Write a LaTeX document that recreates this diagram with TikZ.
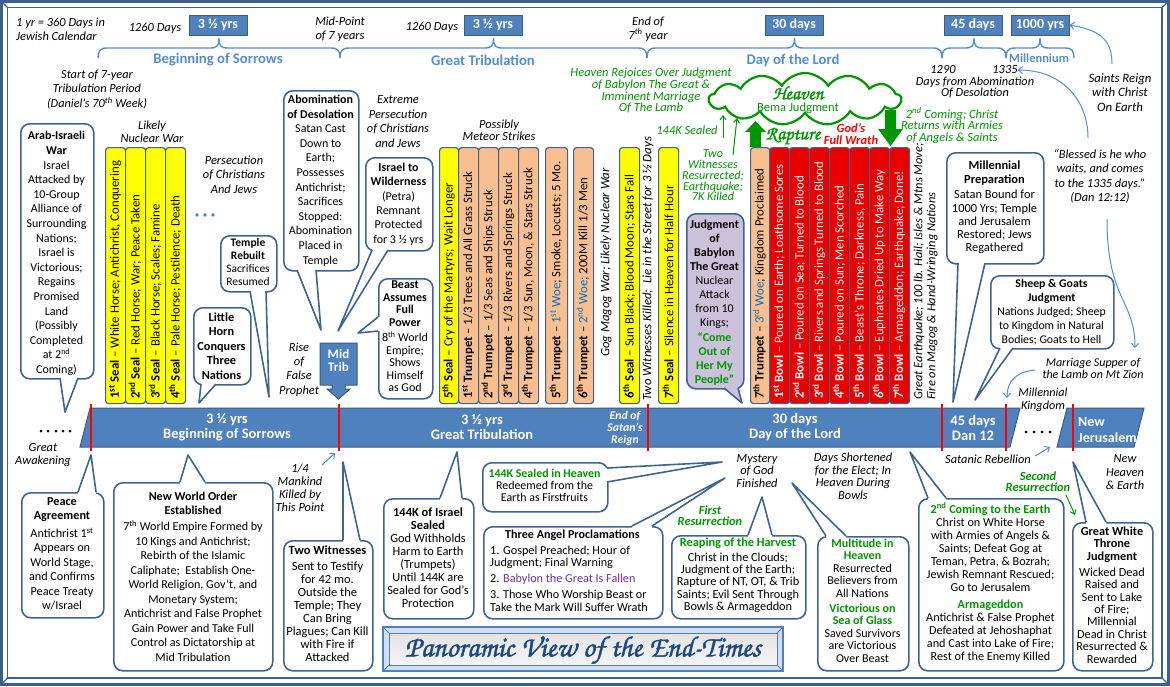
\documentclass[tikz,border=0pt]{standalone}
\usepackage{fontspec}
\setmainfont{Carlito}
\newfontfamily\chorus[FakeBold=1.5]{TeX Gyre Chorus}
\usepackage{graphicx}
\usetikzlibrary{shapes.symbols,arrows.meta}
\definecolor{cbord}{RGB}{62,100,146}
\definecolor{frm}{RGB}{60,95,140}
\definecolor{barblue}{RGB}{79,129,189}
\definecolor{barbord}{RGB}{56,93,138}
\definecolor{hblue}{RGB}{84,141,212}
\definecolor{sealy}{RGB}{255,255,0}
\definecolor{trump}{RGB}{250,191,143}
\definecolor{bowlred}{RGB}{235,0,0}
\definecolor{grn}{RGB}{0,150,0}
\definecolor{purp}{RGB}{112,48,160}
\definecolor{woeblue}{RGB}{0,112,192}
\definecolor{babf}{RGB}{204,193,218}
\definecolor{titleblue}{RGB}{31,73,125}
\newcommand\fsz[2]{\fontsize{#1}{#2}\selectfont}
\tikzset{
 t/.style={inner sep=0, align=center},
 itx/.style={t, font=\itshape\fsz{12.4}{14}},
 cbox/.style={draw=cbord, line width=1.6pt, fill=white, rounded corners=9pt, inner sep=0, anchor=north west},
 cb/.style={draw=cbord, line width=1.6pt, line join=round},
 barb/.style={draw=cbord, line width=1.2pt, rounded corners=3pt, inner sep=0, anchor=north west, minimum height=256pt},
 bart/.style={inner sep=0, anchor=west, rotate=90, font=\fsz{12.8}{13}},
 rit/.style={rotate=90, anchor=west, inner sep=0, font=\itshape\fsz{12.8}{13}},
 topbox/.style={fill=barblue, draw=barbord, line width=1pt, minimum width=58pt, minimum height=20pt, inner sep=0, text=white, font=\bfseries\fsz{14}{14}},
 brc/.style={draw=hblue, line width=1.4pt},
 head/.style={inner sep=0, text=hblue, font=\bfseries\fsz{14.7}{14}},
 bartx/.style={t, text=white, font=\bfseries\fsz{14.5}{15}},
 redl/.style={draw=red, line width=1.6pt},
 thin/.style={draw=hblue, line width=1pt, -{Straight Barb[length=4pt,width=7pt]}},
 garr/.style={draw=grn, line width=1pt, -{Straight Barb[length=4pt,width=6pt]}},
}
% callout tail on a horizontal edge: [fill]{x1}{x2}{yedge}{ax}{ay}{dy inward}
\newcommand\tailh[7][white]{%
 \fill[#1] (#2,{#4+(#7)}) -- (#2,#4) -- (#5,#6) -- (#3,#4) -- (#3,{#4+(#7)}) -- cycle;
 \draw[cb] (#2,#4) -- (#5,#6) -- (#3,#4);}
% callout tail on a vertical edge: [fill]{y1}{y2}{xedge}{ax}{ay}{dx inward}
\newcommand\tailv[7][white]{%
 \fill[#1] ({#4+(#7)},#2) -- (#4,#2) -- (#5,#6) -- (#4,#3) -- ({#4+(#7)},#3) -- cycle;
 \draw[cb] (#4,#2) -- (#5,#6) -- (#4,#3);}
\newcommand\mybrace[2]{%
 \pgfmathsetmacro\bmid{(#1+#2)/2}%
 \draw[brc] (#1,58) .. controls (#1,51) and (#1+2,48) .. (#1+9,48) -- (\bmid-9,48) .. controls (\bmid-2,48) and (\bmid,46) .. (\bmid,38) .. controls (\bmid,46) and (\bmid+2,48) .. (\bmid+9,48) -- (#2-9,48) .. controls (#2-2,48) and (#2,51) .. (#2,58);}
\newcommand\vbar[5]{%
 \node[barb, fill=#4, minimum width=#3pt] (#1) at (#2,147) {};
 \node[bart] (#1t) at ({#2+#3/2},399) {#5};}
\begin{document}
\begin{tikzpicture}[x=1pt,y=-1pt]
\useasboundingbox (0,0) rectangle (1170,686);
\fill[white] (0,0) rectangle (1170,686);
% frame
\draw[draw=frm, line width=2.5pt] (1.5,1.5) rectangle (1168.5,684.5);
\draw[draw=frm, line width=1.5pt] (7.5,7.5) rectangle (1162,678);
\draw[draw=frm, line width=1.2pt] (1.5,1.5)--(7.5,7.5) (1168.5,1.5)--(1162,7.5) (1168.5,684.5)--(1162,678) (1.5,684.5)--(7.5,678);

% ---------- top scale ----------
\node[itx, align=left, anchor=west] (cal) at (16,29) {1 yr = 360 Days in\\Jewish Calendar};
\node[itx] (d1) at (155,28) {1260 Days};
\node[topbox] (b1) at (218,25) {3 ½ yrs};
\node[itx] (midp) at (340,29) {Mid-Point\\of 7 years};
\node[itx] (d2) at (432,27) {1260 Days};
\node[topbox] (b2) at (493,25) {3 ½ yrs};
\node[itx] (end7) at (648,29) {End of\\7\textsuperscript{th} year};
\node[topbox] (b3) at (794,25) {30 days};
\node[topbox] (b4) at (973,25) {45 days};
\node[topbox] (b5) at (1040,25) {1000 yrs};
\mybrace{98}{340}
\mybrace{340}{647}
\mybrace{647}{942}
\mybrace{942}{1006}
\mybrace{1006}{1074}
\node[head] (h1) at (218,60) {Beginning of Sorrows};
\node[head] (h2) at (483,60) {Great Tribulation};
\node[head] (h3) at (793,60) {Day of the Lord};
\node[head, font=\bfseries\fsz{12.5}{12}] (h5) at (1039,58) {Millennium};
\node[itx] (n1290) at (943,70) {1290};
\node[itx] (n1335) at (1005,70) {1335};
\node[itx, font=\itshape\fsz{12.3}{11.5}] (dfa) at (975,87.5) {Days from Abomination\\Of Desolation};
\node[itx, font=\itshape\fsz{12.8}{14.5}] (saints) at (1120,92.5) {Saints Reign\\with Christ\\On Earth};
\node[itx, font=\itshape\fsz{12.4}{14.3}] (bless) at (1100,176.5) {“Blessed is he who\\waits, and comes\\to the 1335 days.”\\(Dan 12:12)};
\coordinate (blA) at (1088,138);
\coordinate (blB) at (1107,219);
\coordinate (srA) at (1112,64);
\draw[thin] (blA) .. controls (1088,100) and (1062,70) .. (n1335.east);
\draw[thin] (srA) .. controls (1112,38) and (1098,30) .. (b5.east);

% ---------- upper annotations ----------
\node[itx, font=\itshape\fsz{12.3}{14.5}] (start) at (97,89.5) {Start of 7-year\\Tribulation Period\\(Daniel’s 70\textsuperscript{th} Week)};
\node[itx, font=\itshape\fsz{12.4}{13}] (lnw) at (152,131.5) {Likely\\Nuclear War};
\node[itx, font=\itshape\fsz{12.4}{14.5}] (pers) at (234,174.5) {Persecution\\of Christians\\And Jews};
\foreach \dx [count=\i] in {197,205,213} \fill[barblue] (\dx,215) circle (1.8pt);
\node[itx, font=\itshape\fsz{12.4}{14.4}] (ext) at (398,121.5) {Extreme\\Persecution\\of Christians\\and Jews};
\node[itx, font=\itshape\fsz{12.4}{12}] (meteor) at (499,130) {Possibly\\Meteor Strikes};
\node[itx, font=\itshape\fsz{12.4}{14.4}] (rise) at (299,369.5) {Rise\\of\\False\\Prophet};

% ---------- callouts upper ----------
\node[cbox, minimum width=73pt, minimum height=255pt] (arab) at (20,123) {};
\tailh{60}{78}{378}{65}{412}{-3}
\node[t, font=\fsz{12}{14.6}] (arabt) at (56.5,253.5) {\textbf{Arab-Israeli}\\\textbf{War}\\Israel\\Attacked by\\10-Group\\Alliance of\\Surrounding\\Nations;\\Israel is\\Victorious;\\Regains\\Promised\\Land\\(Possibly\\Completed\\at 2\textsuperscript{nd}\\Coming)};

\node[cbox, minimum width=56pt, minimum height=56pt] (temple) at (220,235) {};
\tailh{250}{266}{291}{269}{397}{-3}
\node[t, font=\fsz{11.5}{13}] (templet) at (248,262.5) {\textbf{Temple}\\\textbf{Rebuilt}\\Sacrifices\\Resumed};

\node[cbox, minimum width=57pt, minimum height=77pt] (horn) at (193,307) {};
\tailh{201}{216}{384}{199}{403}{-3}
\node[t, font=\bfseries\fsz{12.3}{14.5}] (hornt) at (221.5,346) {Little\\Horn\\Conquers\\Three\\Nations};

\node[cbox, minimum width=75pt, minimum height=180pt] (abom) at (283,90) {};
\tailh{297}{316}{270}{321}{330}{-3}
\node[t, font=\fsz{12}{14.6}] (abomt) at (320.5,180.5) {\textbf{Abomination}\\\textbf{of Desolation}\\Satan Cast\\Down to\\Earth;\\Possesses\\Antichrist;\\Sacrifices\\Stopped:\\Abomination\\Placed in\\Temple};

\node[cbox, minimum width=67pt, minimum height=93pt] (wild) at (365,157) {};
\tailh{372}{388}{250}{338}{331}{-3}
\node[t, font=\fsz{12}{14.4}] (wildt) at (398.5,204) {\textbf{Israel to}\\\textbf{Wilderness}\\(Petra)\\Remnant\\Protected\\for 3 ½ yrs};

\node[cbox, minimum width=54pt, minimum height=120pt] (beast) at (378,278) {};
\tailv{317}{331}{378}{358}{333}{3}
\node[t, font=\fsz{12}{12.5}] (beastt) at (405,336.5) {\textbf{Beast}\\\textbf{Assumes}\\\textbf{Full}\\\textbf{Power}\\[3pt]8\textsuperscript{th} World\\Empire;\\Shows\\Himself\\as God};

% Mid Trib arrow
\filldraw[fill=barblue, draw=barbord, line width=1pt] (320,343) -- (357,343) -- (357,385) -- (345,385) -- (345,389) -- (350,389) -- (338.5,399) -- (327,389) -- (332,389) -- (332,385) -- (320,385) -- cycle;
\node[t, text=white, font=\bfseries\fsz{13}{13}] (midtrib) at (338.5,360.5) {Mid\\Trib};

% ---------- vertical bars ----------
\vbar{s1}{105}{20}{sealy}{\textbf{1\textsuperscript{st} Seal} – White Horse; Antichrist, Conquering}
\vbar{s2}{125}{20}{sealy}{\textbf{2\textsuperscript{nd} Seal} – Red Horse; War; Peace Taken}
\vbar{s3}{145}{20}{sealy}{\textbf{3\textsuperscript{rd} Seal} – Black Horse; Scales; Famine}
\vbar{s4}{165}{20}{sealy}{\textbf{4\textsuperscript{th} Seal} – Pale Horse; Pestilence; Death}
\vbar{s5}{439}{19}{sealy}{\textbf{5\textsuperscript{th} Seal} – Cry of the Martyrs; Wait Longer}
\vbar{t1}{458}{20}{trump}{\textbf{1\textsuperscript{st} Trumpet} – 1/3 Trees and All Grass Struck}
\vbar{t2}{478}{20}{trump}{\textbf{2\textsuperscript{nd} Trumpet} – 1/3 Seas and Ships Struck}
\vbar{t3}{498}{20}{trump}{\textbf{3\textsuperscript{rd} Trumpet} – 1/3 Rivers and Springs Struck}
\vbar{t4}{518}{20}{trump}{\textbf{4\textsuperscript{th} Trumpet} – 1/3 Sun, Moon, \& Stars Struck}
\vbar{t5}{545}{22}{trump}{\textbf{5\textsuperscript{th} Trumpet} – \textcolor{woeblue}{1\textsuperscript{st} Woe}; Smoke, Locusts; 5 Mo.}
\vbar{t6}{573}{20}{trump}{\textbf{6\textsuperscript{th} Trumpet} – \textcolor{woeblue}{2\textsuperscript{nd} Woe}; 200M Kill 1/3 Men}
\node[rit] (gog) at (606,357) {Gog Magog War; Likely Nuclear War};
\vbar{s6}{619}{20}{sealy}{\textbf{6\textsuperscript{th} Seal} – Sun Black; Blood Moon; Stars Fall}
\node[rit] (twk) at (648,401) {Two Witnesses Killed;\ \ Lie in the Street for 3 ½ Days};
\vbar{s7}{658}{20}{sealy}{\textbf{7\textsuperscript{th} Seal} – Silence in Heaven for Half Hour}
\vbar{t7}{750}{19}{trump}{\textbf{7\textsuperscript{th} Trumpet} – \textcolor{woeblue}{3\textsuperscript{rd} Woe}; Kingdom Proclaimed}
\vbar{w1}{769}{20}{bowlred}{\color{white}\textbf{1\textsuperscript{st} Bowl} – Poured on Earth; Loathsome Sores}
\vbar{w2}{789}{20}{bowlred}{\color{white}\textbf{2\textsuperscript{nd} Bowl} – Poured on Sea; Turned to Blood}
\vbar{w3}{809}{20}{bowlred}{\color{white}\textbf{3\textsuperscript{rd} Bowl} – Rivers and Springs Turned to Blood}
\vbar{w4}{829}{20}{bowlred}{\color{white}\textbf{4\textsuperscript{th} Bowl} – Poured on Sun; Men Scorched}
\vbar{w5}{849}{20}{bowlred}{\color{white}\textbf{5\textsuperscript{th} Bowl} – Beast’s Throne; Darkness, Pain}
\vbar{w6}{869}{20}{bowlred}{\color{white}\textbf{6\textsuperscript{th} Bowl} – Euphrates Dried Up to Make Way}
\vbar{w7}{889}{20}{bowlred}{\color{white}\textbf{7\textsuperscript{th} Bowl} – Armageddon; Earthquake; Done!}
\node[rit, font=\itshape\fsz{12.5}{13}] (quake1) at (919,400) {Great Earthquake; 100 lb. Hail; Isles \& Mtns Move;};
\node[rit, font=\itshape\fsz{12.5}{13}] (quake2) at (932,400) {Fire on Magog \& Hand-Wringing Nations};

% Babylon callout
\node[cbox, fill=babf, minimum width=57pt, minimum height=175pt] (bab) at (686,213) {};
\tailh[babf]{724}{738}{388}{742}{403}{-3}
\node[t, font=\fsz{12}{14.1}] (babt) at (714.5,302.5) {\textbf{Judgment}\\\textbf{of}\\\textbf{Babylon}\\\textbf{The Great}\\Nuclear\\Attack\\from 10\\Kings;\\\textcolor{grn}{\textbf{“Come}}\\\textcolor{grn}{\textbf{Out of}}\\\textcolor{grn}{\textbf{Her My}}\\\textcolor{grn}{\textbf{People”}}};

% ---------- heaven cloud ----------
\node[cloud, cloud puffs=13, cloud puff arc=115, aspect=3.7, draw=grn, line width=2.2pt, fill=white, minimum width=192pt, minimum height=52pt, inner sep=0] (cloud) at (805,99) {};
\node[t, text=grn, font=\chorus\fsz{19}{19}] (heaven) at (798,93) {Heaven};
\node[t, text=grn, font=\fsz{12.5}{12}] (bema) at (798,108) {Bema Judgment};
\fill[grn] (750,147) -- (750,132) -- (745,132) -- (755.5,121) -- (766,132) -- (761,132) -- (761,147) -- cycle;
\fill[grn] (885,110) -- (896,110) -- (896,129) -- (903,129) -- (890.5,146) -- (878,129) -- (885,129) -- cycle;
\coordinate (g1a) at (723,138);
\coordinate (g1b) at (723,115);
\coordinate (g2a) at (733,155);
\coordinate (g2b) at (737,118);
\draw[garr] (g1a) -- (g1b);
\draw[garr] (g2a) -- (g2b);
\node[t, text=grn, font=\chorus\fsz{19}{19}] (rapture) at (793,136) {Rapture};
\node[t, text=red, font=\bfseries\itshape\fsz{12.5}{12}] (wrath) at (851,134) {God’s\\Full Wrath};
\node[t, text=grn, font=\itshape\fsz{12.5}{11.8}] (rejoice) at (651,90.5) {Heaven Rejoices Over Judgment\\of Babylon The Great \&\\Imminent Marriage\\Of The Lamb};
\node[t, text=grn, font=\itshape\fsz{12.4}{12}] (s144) at (687,130) {144K Sealed};
\node[t, text=grn, font=\itshape\fsz{12.2}{10.8}] (twr) at (713,175.5) {Two\\Witnesses\\Resurrected;\\Earthquake;\\7K Killed};
\node[t, text=grn, font=\itshape\fsz{12.5}{11.5}] (second) at (952,125.5) {2\textsuperscript{nd} Coming; Christ\\Returns with Armies\\of Angels \& Saints};

% ---------- right upper callouts ----------
\node[cbox, minimum width=97pt, minimum height=111pt] (mprep) at (946,152) {};
\tailh{958}{985}{263}{953}{402}{-3}
\node[t, font=\fsz{12.4}{13.2}] (mprept) at (994.5,207.5) {\textbf{Millennial}\\\textbf{Preparation}\\[2.5pt]Satan Bound for\\1000 Yrs; Temple\\and Jerusalem\\Restored; Jews\\Regathered};
\node[cbox, minimum width=123pt, minimum height=73pt] (sheep) at (990,275) {};
\tailh{1000}{1013}{348}{975}{400}{-3}
\node[t, font=\fsz{11.8}{14}] (sheept) at (1051.5,312) {\textbf{Sheep \& Goats}\\\textbf{Judgment}\\Nations Judged; Sheep\\to Kingdom in Natural\\Bodies; Goats to Hell};
\node[itx, font=\itshape\fsz{12}{12}] (marr) at (1093,368) {Marriage Supper of\\the Lamb on Mt Zion};
\node[itx, font=\itshape\fsz{12.2}{13}] (mking) at (1043,399.5) {Millennial\\Kingdom};
\coordinate (maA) at (1035,370);
\coordinate (maB) at (1007,398);
\draw[thin] (maA) .. controls (1015,372) and (1007,382) .. (maB);
\coordinate (bsB) at (1135,348);
\draw[thin] (blB) .. controls (1107,300) and (1135,300) .. (bsB);

% ---------- timeline bar ----------
\filldraw[fill=barblue, draw=barbord, line width=1pt] (90,408) -- (1020,408) -- (1010,447) -- (80,447) -- cycle;
\filldraw[fill=barblue, draw=barbord, line width=1pt] (1067,408) -- (1144,408) -- (1134,447) -- (1057,447) -- cycle;
\node[bartx] (tb1) at (227,427.5) {3 ½ yrs\\Beginning of Sorrows};
\node[bartx] (tb2) at (482,427.5) {3 ½ yrs\\Great Tribulation};
\node[t, text=white, font=\bfseries\itshape\fsz{11.8}{12}] (tbe) at (625,428) {End of\\Satan’s\\Reign};
\node[bartx] (tb3) at (795,427.5) {30 days\\Day of the Lord};
\node[bartx] (tb4) at (973,427.5) {45 days\\Dan 12};
\node[t, text=white, align=left, anchor=west, font=\bfseries\fsz{14}{15.5}] (tbnj) at (1078,430) {New\\Jerusalem};
\foreach \dx in {41,48,56,63,70} \fill[black] (\dx,431) circle (1.5pt);
\foreach \dx in {1026,1034,1042,1050} \fill[black] (\dx,432) circle (1.5pt);
\foreach \rx in {91,339,648,942,1006,1073} \draw[redl] (\rx,404) -- (\rx,451);

% ---------- lower annotations ----------
\node[itx, font=\itshape\fsz{12.4}{13}] (awak) at (43,455.5) {Great\\Awakening};
\node[itx, font=\itshape\fsz{12.4}{13}] (quarter) at (300,487.5) {1/4\\Mankind\\Killed by\\This Point};
\coordinate (qA) at (322,465);
\coordinate (qB) at (335,453);
\draw[thin] (qA) -- (qB);
\node[itx, font=\itshape\fsz{12.4}{12.3}] (myst) at (757,471) {Mystery\\of God\\Finished};
\node[itx, font=\itshape\fsz{12.4}{12.5}] (days) at (853,476) {Days Shortened\\for the Elect; In\\Heaven During\\Bowls};
\node[t, text=grn, font=\bfseries\itshape\fsz{12.4}{11.5}] (firstr) at (710,515.5) {First\\Resurrection};
\node[t, text=grn, font=\bfseries\itshape\fsz{12.4}{11.5}] (secr) at (1038,481.5) {Second\\Resurrection};
\node[itx] (satan) at (988,459) {Satanic Rebellion};
\node[itx, font=\itshape\fsz{12.4}{13.5}] (newh) at (1125,472.5) {New\\Heaven\\\& Earth};
\coordinate (srbA) at (1035,456);
\coordinate (srbB) at (1050,447);
\draw[thin] (srbA) -- (srbB);
\coordinate (s2A) at (1066,495);
\coordinate (s2B) at (1075,515);
\draw[garr] (s2A) -- (s2B);

% ---------- lower callouts ----------
\node[cbox, minimum width=82pt, minimum height=125pt] (peace) at (21,492) {};
\tailh{78}{96}{492}{91}{455}{3}
\node[t, font=\fsz{12.2}{14.5}] (peacet) at (62,554) {\textbf{Peace}\\\textbf{Agreement}\\[3pt]Antichrist 1\textsuperscript{st}\\Appears on\\World Stage,\\and Confirms\\Peace Treaty\\w/Israel};

\node[cbox, minimum width=159pt, minimum height=188pt] (nwo) at (113,482) {};
\tailh{180}{205}{482}{188}{455}{3}
\node[t, font=\fsz{12.1}{14.5}] (nwot) at (193,576.5) {\textbf{New World Order}\\\textbf{Established}\\[1.5pt]7\textsuperscript{th} World Empire Formed by\\10 Kings and Antichrist;\\Rebirth of the Islamic\\Caliphate;\ \ Establish One-\\World Religion, Gov’t, and\\Monetary System;\\Antichrist and False Prophet\\Gain Power and Take Full\\Control as Dictatorship at\\Mid Tribulation};

\node[cbox, minimum width=89pt, minimum height=130pt] (twow) at (283,540) {};
\tailh{343}{360}{540}{343}{462}{3}
\node[t, font=\fsz{12.5}{13}] (twowt) at (327.5,603.5) {\textbf{Two Witnesses}\\[3pt]Sent to Testify\\for 42 mo.\\Outside the\\Temple; They\\Can Bring\\Plagues; Can Kill\\with Fire if\\Attacked};

\node[cbox, minimum width=90pt, minimum height=120pt] (isr) at (383,498) {};
\tailh{440}{462}{498}{457}{452}{3}
\node[t, font=\fsz{12.4}{13}] (isrt) at (428,557.5) {\textbf{144K of Israel}\\\textbf{Sealed}\\God Withholds\\Harm to Earth\\(Trumpets)\\Until 144K are\\Sealed for God’s\\Protection};

\node[cbox, minimum width=125pt, minimum height=49pt] (heav) at (482,462) {};
\tailv{468}{482}{607}{722}{462}{-3}
\node[t, font=\fsz{11.9}{12}] (heavt) at (544.5,485) {\textcolor{grn}{\textbf{144K Sealed in Heaven}}\\Redeemed from the\\Earth as Firstfruits};

\node[cbox, minimum width=179pt, minimum height=92pt] (angel) at (483,526) {};
\tailh{632}{652}{526}{725}{478}{3}
\node[t, font=\bfseries\fsz{12.1}{12.5}] (angelh) at (572.5,535) {Three Angel Proclamations};
\node[t, align=left, anchor=west, font=\fsz{12.2}{12.5}] (angelt) at (490,578.5) {1. Gospel Preached; Hour of\\Judgment; Final Warning\\[3.5pt]2. \textcolor{purp}{Babylon the Great Is Fallen}\\[3.5pt]3. Those Who Worship Beast or\\Take the Mark Will Suffer Wrath};

\node[cbox, minimum width=134pt, minimum height=83pt] (reap) at (671,535) {};
\tailh{748}{772}{535}{762}{497}{3}
\node[t, font=\fsz{12.3}{12.2}] (reapt) at (738,575) {\textcolor{grn}{\textbf{Reaping of the Harvest}}\\[3pt]Christ in the Clouds;\\Judgment of the Earth;\\Rapture of NT, OT, \& Trib\\Saints; Evil Sent Through\\Bowls \& Armageddon};

\node[cbox, minimum width=91pt, minimum height=134pt] (mult) at (817,536) {};
\tailh{826}{846}{536}{792}{483}{3}
\node[t, font=\fsz{12}{12.5}] (multt) at (862.5,600.5) {\textcolor{grn}{\textbf{Multitude in}}\\\textcolor{grn}{\textbf{Heaven}}\\Resurrected\\Believers from\\All Nations\\[2.5pt]\textcolor{grn}{\textbf{Victorious on}}\\\textcolor{grn}{\textbf{Sea of Glass}}\\Saved Survivors\\are Victorious\\Over Beast};

\node[cbox, minimum width=145pt, minimum height=172pt] (coming) at (918,498) {};
\tailh{928}{946}{498}{910}{452}{3}
\node[t, font=\fsz{12.2}{13}] (comingt) at (990.5,582.5) {\textcolor{grn}{\textbf{2\textsuperscript{nd} Coming to the Earth}}\\Christ on White Horse\\with Armies of Angels \&\\Saints; Defeat Gog at\\Teman, Petra, \& Bozrah;\\Jewish Remnant Rescued;\\Go to Jerusalem\\[4pt]\textcolor{grn}{\textbf{Armageddon}}\\Antichrist \& False Prophet\\Defeated at Jehoshaphat\\and Cast into Lake of Fire;\\Rest of the Enemy Killed};

\node[cbox, minimum width=80pt, minimum height=148pt] (gwt) at (1072,522) {};
\tailh{1086}{1106}{522}{1073}{462}{3}
\node[t, font=\fsz{12.3}{12.4}] (gwtt) at (1112,595) {\textbf{Great White}\\\textbf{Throne}\\\textbf{Judgment}\\[3.5pt]Wicked Dead\\Raised and\\Sent to Lake\\of Fire;\\Millennial\\Dead in Christ\\Resurrected \&\\Rewarded};

% ---------- title ----------
\fill[barblue!25] (383,627) rectangle (783,671);
\shade[top color=gray!22, bottom color=gray!8] (389,633) rectangle (777,665);
\draw[draw=barblue, line width=1.2pt] (383,627) rectangle (783,671);
\draw[draw=barblue, line width=0.8pt] (389,633) rectangle (777,665);
\draw[draw=barblue, line width=0.8pt] (383,627)--(389,633) (783,627)--(777,633) (783,671)--(777,665) (383,671)--(389,665);
\node[inner sep=0, text=titleblue] (title) at (583,650) {\resizebox{356pt}{!}{\chorus\fsz{30}{30}Panoramic View of the End-Times}};
\end{tikzpicture}
\end{document}
